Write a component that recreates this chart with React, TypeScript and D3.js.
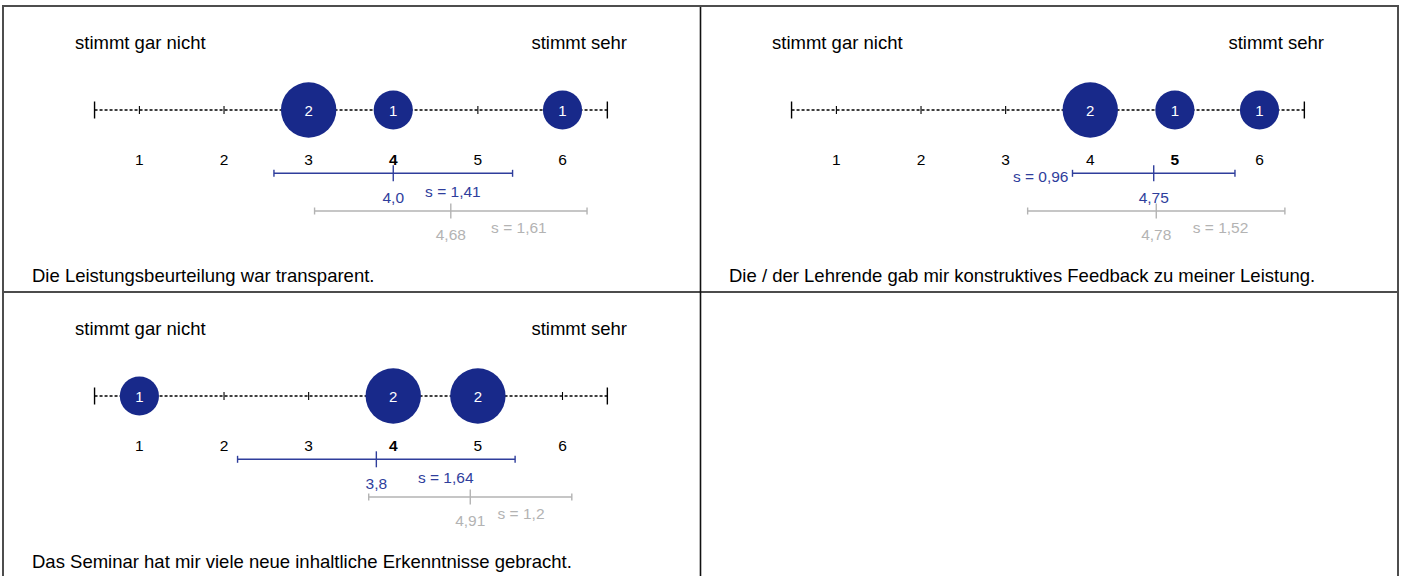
import React from 'react';
import * as d3 from 'd3';

// questionnaire items (one panel each)
const items = [
  'Die Leistungsbeurteilung war transparent.',
  'Die / der Lehrende gab mir konstruktives Feedback zu meiner Leistung.',
  'Das Seminar hat mir viele neue inhaltliche Erkenntnisse gebracht.',
];
const scaleValues = [1, 2, 3, 4, 5, 6];
const lowLabel = 'stimmt gar nicht';
const highLabel = 'stimmt sehr';

// answer counts per scale value
const counts = [
  [0, 0, 2, 1, 0, 1],
  [0, 0, 0, 2, 1, 1],
  [1, 0, 0, 2, 2, 0],
];

// this course
const means = [4.0, 4.75, 3.8];
const meanLabels = ['4,0', '4,75', '3,8'];
const sds = [1.41, 0.96, 1.64];
const sdLabels = ['s = 1,41', 's = 0,96', 's = 1,64'];

// comparison values
const refMeans = [4.68, 4.78, 4.91];
const refMeanLabels = ['4,68', '4,78', '4,91'];
const refSds = [1.61, 1.52, 1.2];
const refSdLabels = ['s = 1,61', 's = 1,52', 's = 1,2'];

const FONT = '"Liberation Sans", Arial, Helvetica, sans-serif';
const DARK = '#18298a';
const BLUE = '#2f3e9c';
const GREY = '#b3b3b3';
const SMALL = 15.5;

const W = 1402, H = 576;
const colStep = 697, rowStep = 286;
const origin = { x: 3, y: 6 };

let ctx: CanvasRenderingContext2D | null = null;
function textWidth(s: string, size: number) {
  if (!ctx) ctx = document.createElement('canvas').getContext('2d');
  if (!ctx) return s.length * size * 0.55;
  ctx.font = `${size}px ${FONT}`;
  return ctx.measureText(s).width;
}

const x = d3.scaleLinear().domain([1, 6]).range([136.4, 559.5]);
const r = d3.scaleSqrt().domain([0, 2]).range([0, 27.7]);

type BarProps = { y: number; mean: number; sd: number; meanLabel: string; sdLabel: string; color: string; big: boolean };

function Bar({ y, mean, sd, meanLabel, sdLabel, color, big }: BarProps) {
  const xm = x(mean), x0 = x(mean - sd), x1 = x(mean + sd);
  const mid = (xm + x1) / 2;
  const sw = textWidth(sdLabel, SMALL), mw = textWidth(meanLabel, SMALL);
  const fitsRight = mid - sw / 2 > xm + mw / 2 + 2;
  const tick = big ? 8 : 7.5;
  return (
    <g>
      <line x1={x0} x2={x1} y1={y} y2={y} stroke={color} strokeWidth={1.6} />
      <line x1={x0} x2={x0} y1={y - 3.5} y2={y + 3.5} stroke={color} strokeWidth={1.4} />
      <line x1={x1} x2={x1} y1={y - 3.5} y2={y + 3.5} stroke={color} strokeWidth={1.4} />
      <line x1={xm} x2={xm} y1={y - tick} y2={y + tick} stroke={color} strokeWidth={1.4} />
      <text x={xm} y={y + (big ? 30 : 29)} textAnchor="middle" fill={color} fontSize={SMALL}>{meanLabel}</text>
      {fitsRight ? (
        <text x={mid} y={y + (big ? 23.5 : 22)} textAnchor="middle" fill={color} fontSize={SMALL}>{sdLabel}</text>
      ) : (
        <text x={x0 - 4} y={y + 8.5} textAnchor="end" fill={color} fontSize={SMALL}>{sdLabel}</text>
      )}
    </g>
  );
}

function Panel({ i }: { i: number }) {
  const col = i % 2, row = Math.floor(i / 2);
  const tx = origin.x + col * colStep, ty = origin.y + row * rowStep;
  const axisY = 104;
  const bold = Math.round(means[i]);
  return (
    <g transform={`translate(${tx},${ty})`}>
      <text x={72} y={43} fontSize={18.5}>{lowLabel}</text>
      <text x={624} y={43} fontSize={18.5} textAnchor="end">{highLabel}</text>

      <line x1={x(0.47)} x2={x(6.53)} y1={axisY} y2={axisY} stroke="#000" strokeWidth={1.3} strokeDasharray="3,2" />
      <line x1={x(0.47)} x2={x(0.47)} y1={axisY - 8.5} y2={axisY + 8.5} stroke="#000" strokeWidth={1.4} />
      <line x1={x(6.53)} x2={x(6.53)} y1={axisY - 8.5} y2={axisY + 8.5} stroke="#000" strokeWidth={1.4} />
      {scaleValues.map((v) => (
        <line key={v} x1={x(v)} x2={x(v)} y1={axisY - 4} y2={axisY + 4} stroke="#000" strokeWidth={1.1} />
      ))}

      {scaleValues.map((v, k) => counts[i][k] > 0 ? (
        <g key={v}>
          <circle cx={x(v)} cy={axisY} r={r(counts[i][k])} fill={DARK} />
          <text x={x(v)} y={axisY + 5.5} textAnchor="middle" fill="#fff" fontSize={15}>{counts[i][k]}</text>
        </g>
      ) : null)}

      {scaleValues.map((v) => (
        <text key={v} x={x(v)} y={159} textAnchor="middle" fontSize={SMALL} fontWeight={v === bold ? 'bold' : 'normal'}>{v}</text>
      ))}

      <Bar y={167.3} mean={means[i]} sd={sds[i]} meanLabel={meanLabels[i]} sdLabel={sdLabels[i]} color={BLUE} big />
      <Bar y={205} mean={refMeans[i]} sd={refSds[i]} meanLabel={refMeanLabels[i]} sdLabel={refSdLabels[i]} color={GREY} big={false} />

      <text x={29} y={276} fontSize={18.5}>{items[i]}</text>
    </g>
  );
}

export default function App() {
  return (
    <svg width={W} height={H} style={{ position: 'absolute', left: 0, top: 0, background: '#fff' }} fontFamily={FONT}>
      <rect x={0} y={0} width={W} height={H} fill="#fff" />
      {items.map((_, i) => <Panel key={i} i={i} />)}
      <line x1={700.5} x2={700.5} y1={6} y2={H} stroke="#111" strokeWidth={1.6} />
      <line x1={3} x2={1398} y1={292} y2={292} stroke="#111" strokeWidth={1.6} />
      <line x1={3} x2={3} y1={6} y2={H} stroke="#4d4d4d" strokeWidth={2} />
      <line x1={1398} x2={1398} y1={6} y2={H} stroke="#4d4d4d" strokeWidth={2} />
      <line x1={2} x2={1399} y1={6} y2={6} stroke="#4d4d4d" strokeWidth={2} />
    </svg>
  );
}
